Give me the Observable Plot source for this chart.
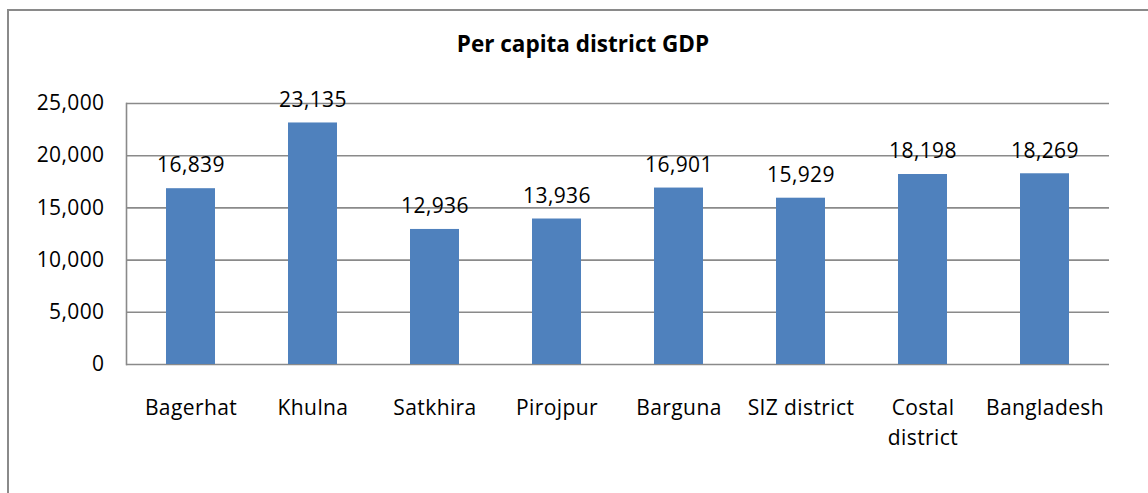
<!DOCTYPE html>
<html>
<head>
<meta charset="utf-8">
<script src="https://cdn.jsdelivr.net/npm/d3@7"></script>
<script src="https://cdn.jsdelivr.net/npm/@observablehq/plot@0.6"></script>
<style>
  html, body { margin: 0; padding: 0; background: #fff; overflow: hidden; width: 1148px; height: 493px; }
  #frame { position: absolute; left: 7px; top: 9px; width: 1160px; height: 520px; border: 2px solid #8a8a8a; box-sizing: border-box; }
  #title { position: absolute; left: 0; width: 1166px; top: 28px; text-align: center; font-family: "Open Sans", sans-serif; font-weight: bold; font-size: 22.5px; color: #000; }
  #chart { position: absolute; left: 0; top: 80px; }
  #chart svg text { letter-spacing: 0.4px; }
</style>
</head>
<body>
<div id="frame"></div>
<div id="title">Per capita district GDP</div>
<div id="chart"></div>
<script>
const categories = ["Bagerhat", "Khulna", "Satkhira", "Pirojpur", "Barguna", "SIZ district", "Costal\ndistrict", "Bangladesh"];
const values = [16839, 23135, 12936, 13936, 16901, 15929, 18198, 18269];
const yTicks = [0, 5000, 10000, 15000, 20000, 25000];

const data = categories.map((c, i) => ({category: c, value: values[i]}));
const fmt = d3.format(",");

const chart = Plot.plot({
  width: 1148,
  height: 413,
  marginLeft: 126,
  marginRight: 39,
  marginTop: 23,
  marginBottom: 129,
  style: {fontFamily: "Open Sans, sans-serif", fontSize: "21px", color: "#000", background: "transparent"},
  x: {domain: categories, paddingInner: 0.6, paddingOuter: 0.3, label: null},
  y: {domain: [0, 25000], label: null},
  marks: [
    Plot.ruleY(yTicks, {stroke: "#8a8a8a", strokeWidth: 1.6}),
    Plot.frame({anchor: "left", stroke: "#8a8a8a", strokeWidth: 1.6}),
    Plot.barY(data, {x: "category", y: "value", fill: "#4F81BD"}),
    Plot.text(data, {x: "category", y: "value", text: d => fmt(d.value), dy: -23, fontSize: 21, fill: "#000"}),
    Plot.axisY({ticks: yTicks, tickFormat: fmt, tickSize: 0, tickPadding: 22, fontSize: 21, label: null}),
    Plot.axisX({tickSize: 0, tickPadding: 29, fontSize: 21, lineHeight: 1.43, label: null})
  ]
});
document.getElementById("chart").appendChild(chart);
</script>
</body>
</html>
